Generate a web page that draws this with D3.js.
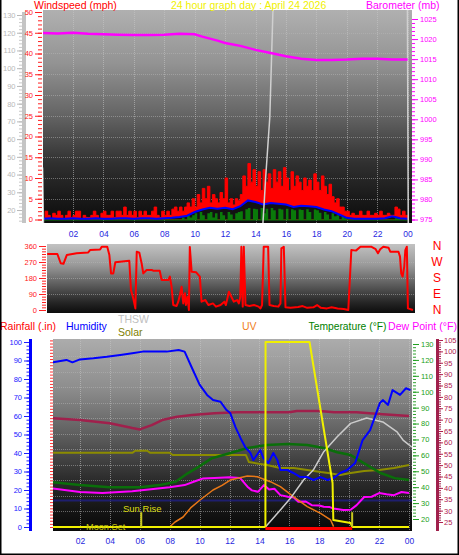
<!DOCTYPE html>
<html><head><meta charset="utf-8">
<script src="https://cdn.jsdelivr.net/npm/d3@7"></script>
<style>
body{margin:0;background:#fff}
svg{display:block}
text{font-family:"Liberation Sans",Arial,sans-serif}
</style></head>
<body><svg id="c" width="459" height="555"></svg>
<script>
// ---------------- DATA ----------------
const hourTicks = [2,4,6,8,10,12,14,16,18,20,22,24];
const hourLabels = ["02","04","06","08","10","12","14","16","18","20","22","00"];

// Barometer (mb)
const baroHours = [0,1,2,3,4,5,6,7,8,9,10,10.5,11,11.5,12,13,14,15,16,17,18,19,20,21,22,23,24];
const baroMb    = [1021.5,1021.4,1021.6,1021.3,1021.2,1021.1,1021.0,1021.0,1021.1,1021.3,1021.2,1020.6,1020.1,1019.6,1019.0,1018.3,1017.3,1016.5,1015.7,1015.1,1014.8,1014.8,1014.9,1015.1,1015.1,1014.9,1014.9];

// Wind gust (mph) every 10 minutes, 00:00 .. 24:00
const gust10 = [
 0,2,1,0,1.5,1,  2,1,0,1,2,0.5,  1,2,2,0,1,0.5,  0.5,1,2,1,0,1.5,
 2,1,1,2,0.5,2,  2,1,3,1,2,1,  2,0.5,2,1,2,1,  1,2,3,1,0.5,2,
 1,2,1,2.5,3,2,  3,2,3,4,3,5,  3,6,4,7.5,5,8,  4,6,5,4,6.5,5,
 10,4,5,3.5,5,4.5,  6,10.5,8,13.5,9,12,  8,11.5,7,12,9,11,  7.5,12,9,11.5,8,12.5,
 10,7,11.5,8,10.5,9,  7,10,8,9.5,7,11,  9,7,10.5,8,6,8.5,  5.5,4,5,3,3,2,
 2,1,1.5,1,1,2,  1,1,2,1,1,1.5,  1,2,1,1,1.5,1,  1,3,2.5,1,2,1,
 1];
// Wind speed (mph) every 10 minutes
const speed10 = [
 0,0,0,0,0,0,  0,0,0,0,0,0,  0,0,0,0,0,0,  0,0,0,0,0,0,
 0,0,0,0,0,0,  0,0,0,0,0,0,  0,0,0,0,0,0,  0,0,0,0,0,0,
 0,0,0,0,0,0,  0,0.5,0,1,0.5,1,  1.5,0,1.8,1,0,1.5,  1.8,0.5,1.5,0,1.8,1,
 0,1.8,1.2,0,1.5,1.8,  2,0,2.5,2.8,0,2.6,  2.5,0,2.8,1.5,2.6,0,  2.8,2.2,0,2.6,2.4,0,
 2.6,0,2.5,2.2,0,2.4,  2.3,0,2.5,1.8,0,2.4,  2.2,1.6,0,1.8,1.2,0,  1.5,0.8,1,0,0.6,0.3,
 0,0,0,0,0,0,  0,0,0,0,0,0,  0,0,0,0,0,0,  0,0.3,0.2,0,0,0,
 0];
// Average wind (mph) every 30 minutes
const avg30 = [
 0.2,0.3,0.2,0.2,0.3,0.2,0.2,0.3,0.2,0.2,0.3,0.3,0.2,0.3,0.3,0.2,0.3,0.4,
 0.6,0.9,1.8,2.4,2.8,2.6,2.8,2.5,3.2,4.6,4.2,3.6,4.0,3.8,3.6,3.0,3.3,3.2,3.0,2.4,2.0,1.2,
 0.4,0.2,0.2,0.2,0.2,0.3,0.8,0.3,0.2];

// Grey series on the grey (0-130) scale
const greyHours = [0,0.08,14.4,14.67,14.94,15.14,15.3,23.98,24.05];
const greyVals  = [44,0,0,38.6,72.5,131,150,150,0];

// Wind direction (degrees)
const dirHours = [0.3,0.97,1.19,1.37,1.59,2.24,3.0,3.12,3.78,3.89,4.25,4.39,4.5,4.65,4.78,5.09,5.7,5.81,5.96,6.1,6.19,6.36,6.51,6.62,6.84,7.17,7.27,7.7,7.83,8.26,8.37,8.48,8.59,8.81,8.92,9.03,9.14,9.25,9.36,9.42,9.53,9.62,9.68,9.8,10.1,10.34,10.45,10.7,10.9,11.2,11.4,11.7,11.95,12.05,12.25,12.57,12.79,12.9,13.0,13.07,13.16,13.23,13.34,13.6,13.9,14.2,14.33,14.43,14.54,14.83,14.92,15.2,15.5,15.64,15.7,15.86,15.97,16.3,16.8,17.1,17.4,17.8,18.05,18.3,18.7,19.0,19.4,19.8,20.1,20.3,20.6,20.9,21.6,21.9,22.05,22.2,22.4,22.75,22.86,23.4,23.5,23.58,23.67,23.78,23.85,23.95,24.02,24.35];
const dirDeg   = [315,315,263,260,309,319,324,337,340,356,356,309,206,206,268,272,277,112,66,9,328,322,263,206,225,225,221,221,169,169,188,131,28,23,47,84,131,37,94,28,75,0,355,215,212,188,47,56,28,37,19,28,47,28,103,47,56,37,75,356,19,356,28,23,28,19,9,28,356,356,28,23,19,37,347,356,15,12,17,22,12,15,28,12,9,15,9,6,0,337,334,356,356,342,319,342,356,350,328,328,300,206,188,244,337,356,9,0];
const compass = ["N","W","S","E","N"];
const compassDeg = [360,270,180,90,0];

// Bottom panel
const humHours = [0,0.2,1.1,1.5,2,2.9,3.8,4.7,5.5,6.2,7.8,8.6,9.0,9.5,10.0,10.5,10.9,11.4,11.8,12.05,12.4,12.8,13.05,13.4,13.6,14.06,14.26,14.6,14.93,15.2,15.4,15.87,16.27,16.74,17.2,17.62,18.09,18.56,18.96,19.4,19.87,20.4,20.9,21.4,22.05,22.25,22.6,22.9,23.4,23.8,24.1];
const humVals  = [88.5,89,90.3,89,90.6,91.2,92,93,93.9,94.8,94.8,95.7,94.8,85.8,77,71.4,68.6,67.7,63.2,61.6,54,47,43.2,40,36.2,41.6,37.3,34.6,40,36.2,30.8,30.8,29.2,27,27,25.4,27,25.4,26.5,29.2,30.8,34.6,47,52.4,67,68.6,66,74,71.4,75,74];

const tempHours = [0,2,4,6,7.3,8.4,9.2,9.9,10.8,12.0,13.2,14.5,15.9,17.2,18.3,19.2,20.1,21,22.1,23.05,24];
const tempVals  = [43.3,41.3,39.9,39.9,41.3,43.4,48.7,52.6,58.1,61.3,64.6,66.5,67.1,66.5,64.6,62,60.2,55,48.9,45.7,44.5];

const dewHours = [0,2,3.5,5.5,8,9,9.6,10.2,11,12,12.7,13.2,13.5,13.9,14.3,14.65,15.0,15.4,15.9,16.3,16.6,17.1,17.5,18.0,18.3,18.7,18.96,19.6,20.1,20.5,21,21.5,22,22.5,23,23.5,24];
const dewVals  = [39.4,36.9,36.3,37.5,40,41.3,43.4,45.4,45.7,46.2,45.8,40.3,38,37.1,41.3,38.5,39,35,34,33.5,30.8,31,28.7,28.5,27.7,27.5,26.6,25.6,25.8,28.7,33.8,34,36.3,35.5,35,37,36.3];

const solarHours = [0,5.5,5.7,6.5,6.7,8.0,8.2,13.1,13.3,14.5,15.4,16.3,17.2,18.1,18.6,19.4,20.1,21,22,23,24];
const solarVals  = [61.6,61.6,62.9,62.9,61.6,61.6,60.2,60.2,55.8,53.9,52,52,50.8,49.5,48.9,47.6,48.9,50.2,50.8,52,53.9];

const indoorHours = [0,2,4,5.5,6,6.8,7.5,8.5,9.5,11,12.5,16,16.5,18,19,20.5,22,24];
const indoorVals  = [70.7,69.8,68.4,66.3,65.7,67.6,69.8,71.3,72,72.8,73.2,73.2,73.8,73.8,73.2,73.2,72.5,71.6];

const uvHours = [8.0,8.36,8.9,9.4,10.03,10.9,11.5,12.05,13.19,13.86,14.73,15.4,16.27,17.2,18.09,18.76,18.96];
const uvVals  = [0,2.7,5.4,10.3,14.6,20,22.5,25.4,27.6,27.2,24.5,21.8,16.4,11,7.4,3.8,0.2];

const thswHours = [14.4,15.4,16.07,16.95,17.6,18.3,19.2,20.1,21.17,22.25,23.2,23.6,24.2];
const thswVals  = [0,9.2,15.5,25.4,30.8,40.7,48.8,56,58.9,56.8,51.4,47,43.2];

const yellowHours = [0,14.4,14.41,17.35,18.89,18.94,20.1,20.2,24];
const yellowVals  = [0,0,100,100,23.8,3.8,2.2,0,0];

const navyRain = 0.17;
const redBarHours = [14.4,20.2];
const sunRiseHour = 6.1, sunSetHour = 20.2;

// ---------------- DRAW ----------------
const svg = d3.select("#c");
const FONT = '"Liberation Sans",Arial,sans-serif';
const defs = svg.append("defs");
function grad(id, stops){
  const g = defs.append("linearGradient").attr("id",id).attr("x1",0).attr("y1",0).attr("x2",0).attr("y2",1);
  stops.forEach(s=>g.append("stop").attr("offset",s[0]).attr("stop-color",s[1]));
}
grad("gTop",[[0,"#b0b0b0"],[0.25,"#939393"],[0.5,"#636363"],[0.72,"#303030"],[0.88,"#1a1a1a"],[1,"#0c0c0c"]]);
grad("gDir",[[0,"#c2c2c2"],[0.3,"#9a9a9a"],[0.6,"#5a5a5a"],[0.85,"#252525"],[1,"#0c0c0c"]]);
grad("gBot",[[0,"#acacac"],[0.25,"#8e8e8e"],[0.5,"#5e5e5e"],[0.72,"#2e2e2e"],[0.88,"#161616"],[1,"#080808"]]);

const P = {
  top:{x0:43,x1:412,y0:10,y1:223},
  dir:{x0:47,x1:415,y0:244,y1:313},
  bot:{x0:53,x1:412,y0:339,y1:531}
};
Object.entries(P).forEach(([k,p])=>{
  defs.append("clipPath").attr("id","clip_"+k).append("rect")
    .attr("x",p.x0).attr("y",p.y0).attr("width",p.x1-p.x0).attr("height",p.y1-p.y0);
  svg.append("rect").attr("x",p.x0).attr("y",p.y0).attr("width",p.x1-p.x0).attr("height",p.y1-p.y0)
    .attr("fill","url(#g"+k[0].toUpperCase()+k.slice(1)+")");
});
defs.append("clipPath").attr("id","clip_lbl").append("rect").attr("x",0).attr("y",337).attr("width",459).attr("height",200);

// scales
const xTop = d3.scaleLinear([0,24],[42.6,407.6]);
const xBot = d3.scaleLinear([0,24],[50,409]);
const yWind = d3.scaleLinear([0,50],[219.5,12]);
const yBaro = d3.scaleLinear([975,1025],[219.5,19]);
const yGrey = d3.scaleLinear([0,130],[245.5,15]);
const yDir  = d3.scaleLinear([0,360],[310,246]);
const yHum  = d3.scaleLinear([0,100],[527,342]);
const yRain = d3.scaleLinear([0,1.2],[527,340.4]);
const yTemp = d3.scaleLinear([20,130],[519,344]);
const yDew  = d3.scaleLinear([25,105],[522,340]);

const gTop = svg.append("g").attr("clip-path","url(#clip_top)");
const gDirP = svg.append("g").attr("clip-path","url(#clip_dir)");
const gBotP = svg.append("g").attr("clip-path","url(#clip_bot)");

// grids
function vgrid(g, x, p){
  g.selectAll(null).data(hourTicks).join("line")
   .attr("x1",d=>Math.round(x(d))+0.5).attr("x2",d=>Math.round(x(d))+0.5)
   .attr("y1",p.y0).attr("y2",p.y1)
   .attr("stroke","#c8c8c8").attr("stroke-opacity",0.55).attr("stroke-dasharray","1,1");
}
function hgrid(g, ys, p){
  g.selectAll(null).data(ys).join("line")
   .attr("x1",p.x0).attr("x2",p.x1).attr("y1",d=>Math.round(d)+0.5).attr("y2",d=>Math.round(d)+0.5)
   .attr("stroke","#b8b8b8").attr("stroke-opacity",0.5).attr("stroke-dasharray","1,1");
}
vgrid(gTop, xTop, P.top);
hgrid(gTop, d3.range(5,50,5).map(yWind), P.top);
hgrid(gDirP, [90,180,270].map(yDir), P.dir);
vgrid(gBotP, xBot, P.bot);
hgrid(gBotP, d3.range(1,12).map(i=>yRain(i/10)), P.bot);

// ---- top panel: wind ----
const t10 = gust10.map((v,i)=>i/6);
gTop.append("path").datum(gust10)
  .attr("d", d3.area().curve(d3.curveStepAfter).x((d,i)=>xTop(t10[i])).y0(yWind(0)).y1(d=>yWind(d)))
  .attr("fill","#ff0000").attr("stroke","#ff0000").attr("stroke-width",1);
gTop.append("path").datum(avg30)
  .attr("d", d3.area().x((d,i)=>xTop(i/2)).y0(yWind(0)).y1(d=>yWind(d)))
  .attr("fill","#121212");
gTop.append("path").datum(speed10)
  .attr("d", d3.area().curve(d3.curveStepAfter).x((d,i)=>xTop(t10[i])).y0(yWind(0)+1).y1(d=>yWind(d)))
  .attr("fill","#0a7a0a");
gTop.append("path").datum(avg30)
  .attr("d", d3.line().x((d,i)=>xTop(i/2)).y(d=>yWind(d)))
  .attr("fill","none").attr("stroke","#0000ff").attr("stroke-width",2);
gTop.append("path").datum(greyHours)
  .attr("d", d3.line().x(d=>xTop(d)).y((d,i)=>yGrey(greyVals[i])))
  .attr("fill","none").attr("stroke","#d0d0d0").attr("stroke-width",1.5);
gTop.append("path").datum(baroHours)
  .attr("d", d3.line().x(d=>xTop(d)).y((d,i)=>yBaro(baroMb[i])))
  .attr("fill","none").attr("stroke","#ff00ff").attr("stroke-width",2.5);

// ---- direction panel ----
gDirP.append("path").datum(dirHours)
  .attr("d", d3.line().x(d=>xTop(d)).y((d,i)=>yDir(dirDeg[i])))
  .attr("fill","none").attr("stroke","#ff0000").attr("stroke-width",2).attr("stroke-linejoin","round");

// ---- bottom panel ----
function ln(g, hours, vals, x, y, color, w){
  g.append("path").datum(hours)
   .attr("d", d3.line().x(d=>x(d)).y((d,i)=>y(vals[i])))
   .attr("fill","none").attr("stroke",color).attr("stroke-width",w).attr("stroke-linejoin","round");
}
gBotP.append("line").attr("x1",P.bot.x0).attr("x2",P.bot.x1)
  .attr("y1",yRain(navyRain)).attr("y2",yRain(navyRain)).attr("stroke","#1e1e6e").attr("stroke-width",2);
ln(gBotP, indoorHours, indoorVals, xBot, yDew, "#a0204c", 2.5);
ln(gBotP, solarHours, solarVals, xBot, yTemp, "#8c8c00", 2);
ln(gBotP, tempHours, tempVals, xBot, yTemp, "#0a6e0a", 2.5);
ln(gBotP, dewHours, dewVals, xBot, yTemp, "#ff00ff", 2);
ln(gBotP, uvHours, uvVals, xBot, yHum, "#e87818", 1.5);
ln(gBotP, thswHours, thswVals, xBot, yHum, "#cccccc", 1.5);
ln(gBotP, humHours, humVals, xBot, yHum, "#0000ff", 2);
ln(gBotP, yellowHours, yellowVals, xBot, yHum, "#f0f000", 2);
gBotP.append("line").attr("x1",xBot(redBarHours[0])).attr("x2",xBot(redBarHours[1]))
  .attr("y1",yHum(0)+1.5).attr("y2",yHum(0)+1.5).attr("stroke","#ff0000").attr("stroke-width",3);
[sunRiseHour, sunSetHour].forEach(h=>{
  gBotP.append("line").attr("x1",xBot(h)).attr("x2",xBot(h)).attr("y1",yHum(8)).attr("y2",yHum(0))
    .attr("stroke","#c8c820").attr("stroke-width",2);
});
svg.append("text").attr("x",123).attr("y",511.5).text("Sun Rise")
  .attr("fill","#dcdc10").style("font-size","9.5px");
svg.append("text").attr("x",86).attr("y",530).text("Moon Set")
  .attr("fill","#c8c810").style("font-size","9.2px");

// ---------------- AXES ----------------
function ax(x, y, fn, scale, vals, size, pad, fmt, color, fs, clip){
  const g = svg.append("g").attr("transform",`translate(${x},${y})`);
  if(clip) g.attr("clip-path","url(#clip_lbl)");
  g.call(fn(scale).tickValues(vals).tickSize(size).tickPadding(pad).tickFormat(fmt));
  g.select(".domain").remove();
  g.selectAll("line").attr("stroke",color);
  g.selectAll("text").attr("fill",color).style("font-size",fs).style("font-family",FONT);
  return g;
}
const none = ()=>"";
// grey left axis
svg.append("rect").attr("x",22).attr("y",12).attr("width",4).attr("height",211).attr("fill","#c4c4c4");
ax(22,0,d3.axisLeft,yGrey,d3.range(14,132,2),3,0,none,"#c8c8c8","7px");
ax(22,0,d3.axisLeft,yGrey,d3.range(20,131,10),5,1.5,d=>d,"#b8b8b8","7.5px");
// wind
ax(42,0,d3.axisLeft,yWind,d3.range(0,51,1),4,0,none,"#ff2020","7px");
ax(42,0,d3.axisLeft,yWind,d3.range(0,51,5),7,2,d=>d,"#ff2020","7.5px");
// barometer
ax(412,0,d3.axisRight,yBaro,d3.range(975,1026,1),3,0,none,"#ff00ff","7px");
ax(412,0,d3.axisRight,yBaro,d3.range(975,1026,5),6,2,d=>d,"#ff00ff","7.5px");
// direction
ax(46,0,d3.axisLeft,yDir,d3.range(0,361,15),4,0,none,"#ff2020","7px");
ax(46,0,d3.axisLeft,yDir,d3.range(0,361,90),7,2,d=>d,"#ff2020","7.5px");
svg.append("g").selectAll("text").data(compass).join("text")
  .attr("x",437).attr("y",(d,i)=>yDir(compassDeg[i])).attr("dy","0.36em").attr("text-anchor","middle")
  .attr("fill","#ff0000").style("font-size","12px").text(d=>d);
// humidity
svg.append("rect").attr("x",29).attr("y",339).attr("width",3).attr("height",192).attr("fill","#0000ff");
ax(29,0,d3.axisLeft,yHum,d3.range(0,101,2),2.5,0,none,"#2020ff","7px");
ax(29,0,d3.axisLeft,yHum,d3.range(0,101,10),5,2,d=>d,"#2020ff","7.5px");
// rainfall
ax(53,0,d3.axisLeft,yRain,d3.range(0,61).map(i=>i/50),3,0,none,"#ff3030","7px");
ax(53,0,d3.axisLeft,yRain,d3.range(0,13).map(i=>i/10),5,2,d=>String(+d.toFixed(1)),"#ff2020","7.5px",true);
// temperature
ax(413,0,d3.axisRight,yTemp,d3.range(20,131,2),3,0,none,"#30a030","7px");
ax(413,0,d3.axisRight,yTemp,d3.range(20,131,10),6,2,d=>d,"#20a020","7.5px");
// dew point
svg.append("rect").attr("x",436).attr("y",339).attr("width",3).attr("height",192).attr("fill","#a0204c");
ax(439,0,d3.axisRight,yDew,d3.range(25,106,1),2,0,none,"#a0204c","7px");
ax(439,0,d3.axisRight,yDew,d3.range(25,106,5),4,1,d=>d,"#b02050","7.5px",true);
// x axes
ax(0,223,d3.axisBottom,xTop,hourTicks,0,8,(d,i)=>hourLabels[i],"#2828e0","8.5px");
ax(0,531,d3.axisBottom,xBot,hourTicks,0,7,(d,i)=>hourLabels[i],"#2828e0","8.5px");

// ---------------- TITLES / LEGEND ----------------
function txt(x,y,s,c,fs,len){
  const t = svg.append("text").attr("x",x).attr("y",y).text(s).attr("fill",c).style("font-size",fs||"10.5px");
  if(len) t.attr("textLength",len).attr("lengthAdjust","spacingAndGlyphs");
  return t;
}
txt(34,9.3,"Windspeed (mph)","#ff0000");
txt(171,9.3,"24 hour graph day : April 24 2026","#f0f000");
txt(366,9.3,"Barometer (mb)","#ff00ff");
txt(0,330,"Rainfall (.in)","#ff0000");
txt(66,330,"Humidity","#0000ff");
txt(118,323,"THSW","#c0c0c0");
txt(118,336,"Solar","#808000");
txt(242,330,"UV","#f08020");
txt(308.5,330,"Temperature (°F)","#008000","10.5px",78);
txt(388,330,"Dew Point (°F)","#ff00ff","10.5px",69);

// outer frame
svg.append("path").attr("d","M0.75,0 V554.25 H458.25 V0").attr("fill","none").attr("stroke","#000").attr("stroke-width",1.5);
</script></body></html>
